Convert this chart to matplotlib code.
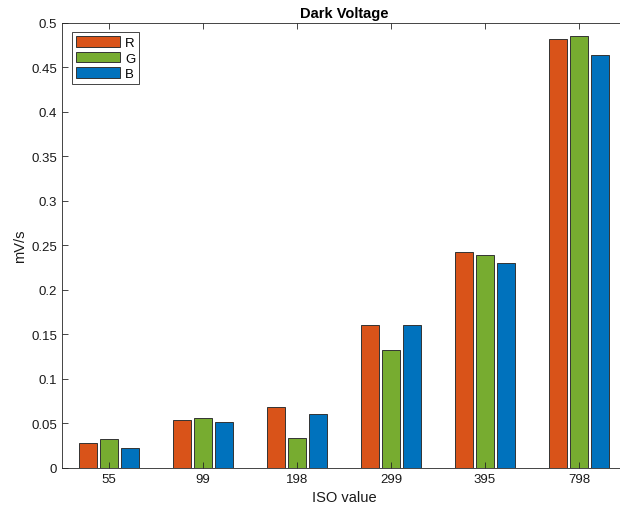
import numpy as np
import matplotlib.pyplot as plt

# data
iso_labels = ["55", "99", "198", "299", "395", "798"]
r_vals = [0.028, 0.054, 0.068, 0.161, 0.242, 0.482]
g_vals = [0.032, 0.056, 0.034, 0.132, 0.239, 0.485]
b_vals = [0.023, 0.052, 0.061, 0.160, 0.230, 0.464]
series_names = ["R", "G", "B"]

COLORS = ["#D95319", "#77AC30", "#0072BD"]
AX_COLOR = "#262626"

plt.rcParams.update({
    "font.family": ["Liberation Sans", "DejaVu Sans"],
    "font.size": 10,
    "xtick.direction": "in",
    "ytick.direction": "in",
    "axes.edgecolor": AX_COLOR,
    "axes.linewidth": 0.6,
})

fig = plt.figure(figsize=(6.2, 5.1), dpi=100)
ax = fig.add_axes([62 / 620, 1 - 469 / 510, 564 / 620, (469 - 23.5) / 510])

x = np.arange(1, len(iso_labels) + 1)
offset = 0.223
width = 0.185
for i, (vals, name) in enumerate(zip([r_vals, g_vals, b_vals], series_names)):
    ax.bar(x + (i - 1) * offset, vals, width, color=COLORS[i],
           edgecolor="#333333", linewidth=0.7, label=name)

ax.set_xlim(0.5, 6.5)
ax.set_ylim(0, 0.5)
ax.set_xticks(x)
ax.set_xticklabels(iso_labels)
yt = np.arange(0, 0.501, 0.05)
ax.set_yticks(yt)
ax.set_yticklabels([f"{v:g}" for v in np.round(yt, 2)])
ax.tick_params(axis="both", colors=AX_COLOR, labelcolor="#1a1a1a",
               length=4, width=0.6, top=True, right=True, labelsize=9.5)

ax.set_xlabel("ISO value", color="#1a1a1a", fontsize=10.5, labelpad=4)
ax.set_ylabel("mV/s", color="#1a1a1a", fontsize=10.5, labelpad=3)
ax.set_title("Dark Voltage", fontweight="bold", fontsize=10.5, pad=4)

leg = ax.legend(loc="upper left", bbox_to_anchor=(0.018, 0.978), fancybox=False,
                edgecolor=AX_COLOR, framealpha=1, handlelength=3.3,
                handleheight=0.85, handletextpad=0.4, labelspacing=0.2,
                borderpad=0.3, fontsize=9.5, borderaxespad=0)
leg.get_frame().set_linewidth(0.6)

fig.savefig("out.png", dpi=100)
